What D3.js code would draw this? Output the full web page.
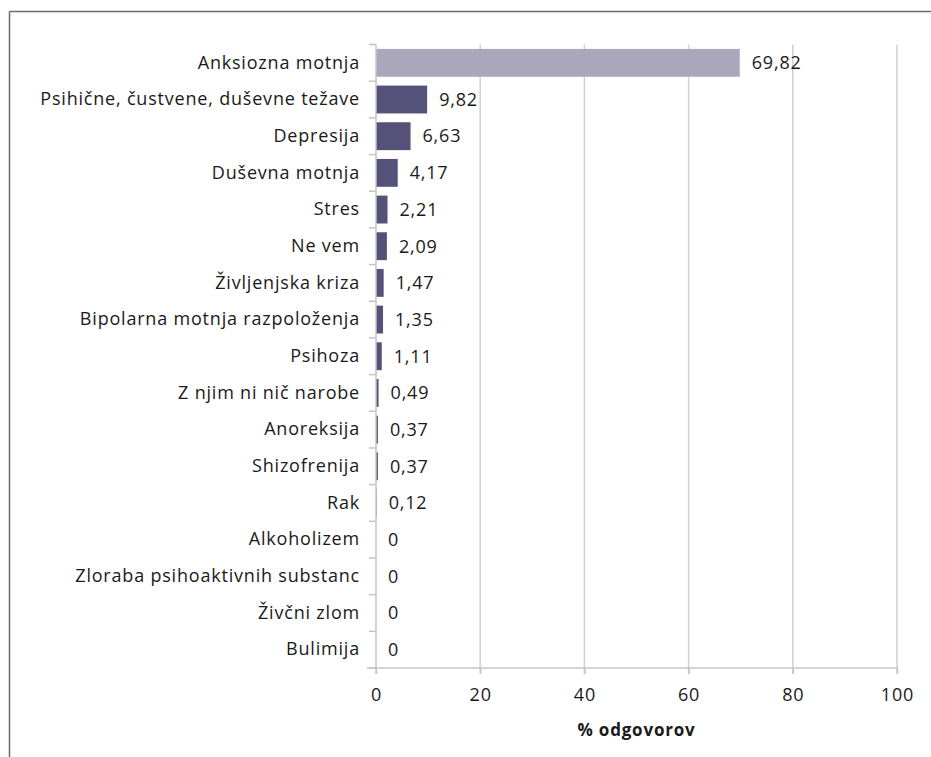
<!DOCTYPE html>
<html>
<head>
<meta charset="utf-8">
<script src="https://cdn.jsdelivr.net/npm/d3@7"></script>
<style>
  body { margin: 0; background: #fff; }
  text { font-family: "Open Sans", sans-serif; fill: #1a1a1a; letter-spacing: 0.8px; }
</style>
</head>
<body>
<div id="chart"></div>
<script>
// ==========================
// Data
// ==========================
const categories = [
    "Anksiozna motnja",
    "Psihične, čustvene, duševne težave",
    "Depresija",
    "Duševna motnja",
    "Stres",
    "Ne vem",
    "Življenjska kriza",
    "Bipolarna motnja razpoloženja",
    "Psihoza",
    "Z njim ni nič narobe",
    "Anoreksija",
    "Shizofrenija",
    "Rak",
    "Alkoholizem",
    "Zloraba psihoaktivnih substanc",
    "Živčni zlom",
    "Bulimija"
];
const values = [69.82, 9.82, 6.63, 4.17, 2.21, 2.09, 1.47, 1.35, 1.11, 0.49, 0.37, 0.37, 0.12, 0, 0, 0, 0];
const xTicks = [0, 20, 40, 60, 80, 100];
const axisTitle = "% odgovorov";

// ==========================
// Constants & Dimensions
// ==========================
const width = 931;
const height = 757;
const margin = { top: 44.5, right: 34, bottom: 89, left: 376 };
const fontSize = 18;

const svg = d3.select("#chart")
    .append("svg")
    .attr("width", width)
    .attr("height", height);

// outer frame (top + left edges only are visible)
svg.append("line")
    .attr("x1", 9.5).attr("x2", width).attr("y1", 11.5).attr("y2", 11.5)
    .attr("stroke", "#6b6b6b").attr("stroke-width", 1.5);
svg.append("line")
    .attr("x1", 9.5).attr("x2", 9.5).attr("y1", 11.5).attr("y2", height)
    .attr("stroke", "#6b6b6b").attr("stroke-width", 1.5);

const x = d3.scaleLinear()
    .domain([0, 100])
    .range([margin.left, width - margin.right]);

const y = d3.scaleBand()
    .domain(categories)
    .range([margin.top, height - margin.bottom])
    .paddingInner(0.24)
    .paddingOuter(0.12);

const plotBottom = height - margin.bottom;

// gridlines
svg.append("g")
    .selectAll("line")
    .data(xTicks.slice(1))
    .enter()
    .append("line")
    .attr("x1", d => x(d)).attr("x2", d => x(d))
    .attr("y1", margin.top).attr("y2", plotBottom + 6)
    .attr("stroke", "#d0d0d0")
    .attr("stroke-width", 1.5);

// bars
svg.append("g")
    .selectAll("rect")
    .data(categories)
    .enter()
    .append("rect")
    .attr("x", x(0))
    .attr("y", d => y(d))
    .attr("width", (d, i) => x(values[i]) - x(0))
    .attr("height", y.bandwidth())
    .attr("fill", (d, i) => i === 0 ? "#aaa6bb" : "#545278");

// value labels
svg.append("g")
    .selectAll("text")
    .data(categories)
    .enter()
    .append("text")
    .attr("x", (d, i) => x(values[i]) + 12)
    .attr("y", d => y(d) + y.bandwidth() / 2)
    .attr("dy", "0.35em")
    .attr("font-size", fontSize)
    .text((d, i) => String(values[i]).replace(".", ",").replace(/^(\d+,\d)$/, "$10"));

// y axis
const yAxis = svg.append("g")
    .attr("transform", `translate(${margin.left},0)`)
    .call(d3.axisLeft(y).tickSize(0).tickPadding(16));
yAxis.select(".domain").remove();
yAxis.selectAll("text").attr("font-size", fontSize).attr("font-family", "Open Sans, sans-serif").attr("fill", "#1a1a1a");

// y band separators
const sepYs = d3.range(categories.length + 1).map(i => margin.top + i * (plotBottom - margin.top) / categories.length);
svg.append("g")
    .selectAll("line")
    .data(sepYs)
    .enter()
    .append("line")
    .attr("x1", margin.left - 7).attr("x2", margin.left)
    .attr("y1", d => d).attr("y2", d => d)
    .attr("stroke", "#c4c4c4").attr("stroke-width", 1.5);
svg.append("line")
    .attr("x1", margin.left).attr("x2", margin.left)
    .attr("y1", margin.top).attr("y2", plotBottom + 6)
    .attr("stroke", "#c4c4c4").attr("stroke-width", 1.5);

// x axis
const xAxis = svg.append("g")
    .attr("transform", `translate(0,${plotBottom})`)
    .call(d3.axisBottom(x).tickValues(xTicks).tickSize(6).tickPadding(14));
xAxis.select(".domain")
    .attr("d", `M${margin.left - 9},0H${x(100)}`)
    .attr("stroke", "#c4c4c4").attr("stroke-width", 1.5);
xAxis.selectAll(".tick line").attr("stroke", "#c4c4c4").attr("stroke-width", 1.5);
xAxis.selectAll("text").attr("font-size", fontSize).attr("font-family", "Open Sans, sans-serif").attr("fill", "#1a1a1a");

// axis title
svg.append("text")
    .attr("x", (x(0) + x(100)) / 2)
    .attr("y", 736)
    .attr("text-anchor", "middle")
    .attr("font-size", 17)
    .attr("font-weight", "bold")
    .text(axisTitle);
</script>
</body>
</html>
